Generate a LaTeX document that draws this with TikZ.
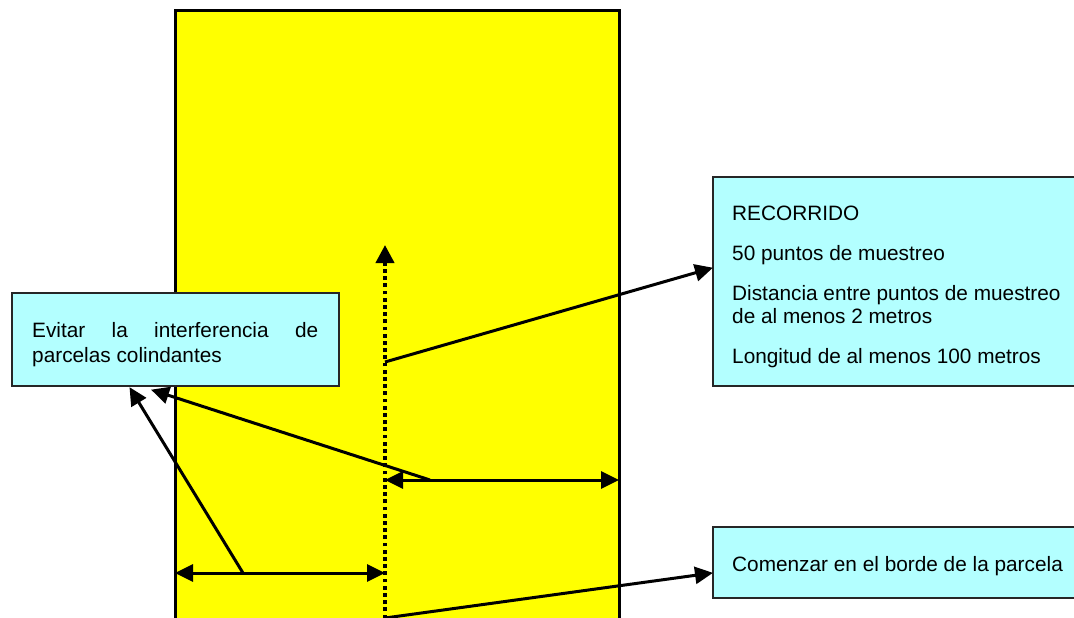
\documentclass[tikz,border=0pt]{standalone}
\usepackage{fontspec}
\setmainfont{Liberation Sans}
\usetikzlibrary{arrows.meta}
\definecolor{boxcyan}{RGB}{179,255,255}
\definecolor{fieldyellow}{RGB}{255,255,0}
\tikzset{
  infobox/.style={draw=black!85, line width=1.5pt, fill=boxcyan, anchor=north west, inner sep=0pt},
  txt/.style={anchor=base west, inner sep=0pt, font=\fontsize{20.8pt}{23.5pt}\selectfont},
  arr/.style={line width=3pt, -{Triangle[length=18pt,width=17pt]}, shorten >=-1pt},
  darr/.style={line width=3pt, {Triangle[length=18pt,width=17pt]}-{Triangle[length=18pt,width=17pt]}},
  path/.style={line width=4pt, dash pattern=on 3.8pt off 3.4pt, -{Triangle[length=18pt,width=18pt]}}
}
\begin{document}
\begin{tikzpicture}[x=1pt,y=-1pt]
\useasboundingbox (0,0) rectangle (1074,618);
\clip (0,0) rectangle (1074,618);
\fill[white] (0,0) rectangle (1074,618);
% field
\draw[fill=fieldyellow, line width=3pt] (175,11) rectangle (619,640);
% walking path
\coordinate (pstart) at (385,640);
\coordinate (pend) at (385,245);
\draw[path] (pstart) -- (pend);
% boxes
\node[infobox, minimum width=327pt, minimum height=93pt] (evitar) at (11,292) {};
\node[txt] (ev1) at (32,337) {\makebox[286pt][s]{Evitar la interferencia de}};
\node[txt] (ev2) at (32,362) {parcelas colindantes};
\node[infobox, minimum width=380pt, minimum height=209pt] (rec) at (712,176) {};
\node[txt] (r1) at (732,220) {RECORRIDO};
\node[txt] (r2) at (732,260) {50 puntos de muestreo};
\node[txt] (r3) at (732,300) {Distancia entre puntos de muestreo};
\node[txt] (r4) at (732,323) {de al menos 2 metros};
\node[txt] (r5) at (732,363) {Longitud de al menos 100 metros};
\node[infobox, minimum width=380pt, minimum height=71pt] (com) at (712,526) {};
\node[txt] (c1) at (732,571) {Comenzar en el borde de la parcela};
% connector points
\coordinate (a1s) at (385,362);
\coordinate (a1e) at (712,268);
\coordinate (a2s) at (385,618);
\coordinate (a2e) at (712,573);
\coordinate (wl) at (175,573);
\coordinate (wm) at (385,573);
\coordinate (wr) at (619,480);
\coordinate (wmr) at (385,480);
\coordinate (b1s) at (243,573);
\coordinate (b1e) at (130,388);
\coordinate (b2s) at (430,480);
\coordinate (b2e) at (152,390);
\draw[arr] (a1s) -- (a1e);
\draw[arr] (a2s) -- (a2e);
\draw[darr] (wmr) -- (wr);
\draw[darr] (wl) -- (wm);
\draw[arr] (b1s) -- (b1e);
\draw[arr] (b2s) -- (b2e);
\end{tikzpicture}
\end{document}
